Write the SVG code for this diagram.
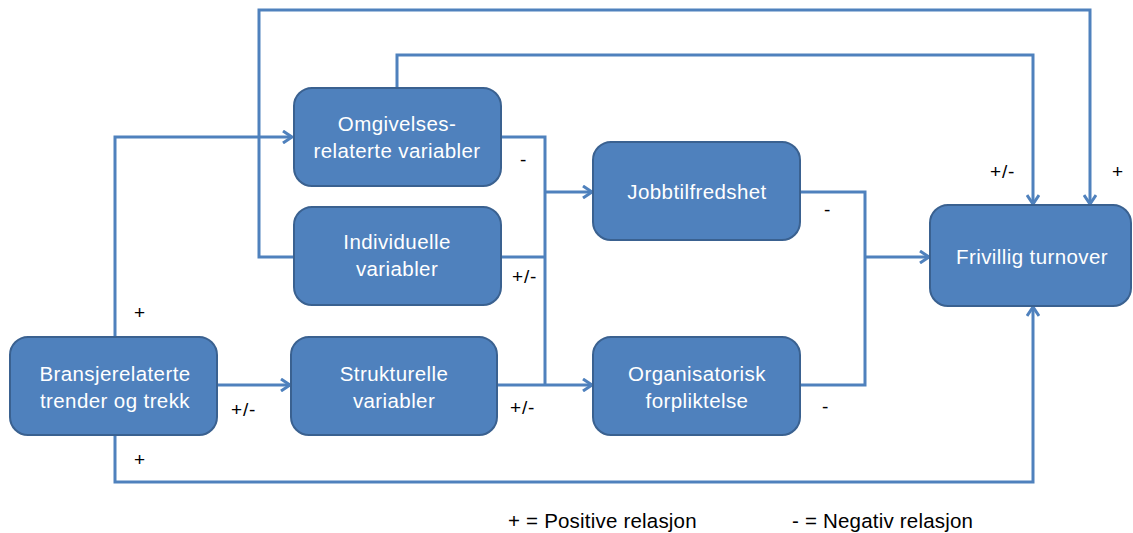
<svg xmlns="http://www.w3.org/2000/svg" width="1133" height="533" viewBox="0 0 1133 533">
<style>
.box{fill:#4F81BD;stroke:#3A6190;stroke-width:2}
.t{font-family:"Liberation Sans",Arial,sans-serif;font-size:20.5px;letter-spacing:0.4px;fill:#FFFFFF;text-anchor:middle}
.c{fill:none;stroke:#4F81BD;stroke-width:3}
.l{font-family:"Liberation Sans",Arial,sans-serif;font-size:19px;letter-spacing:0.8px;fill:#000000}
.g{font-family:"Liberation Sans",Arial,sans-serif;font-size:20.5px;letter-spacing:0.2px;fill:#000000}
</style>
<defs>
<marker id="arr" markerWidth="14" markerHeight="14" refX="11" refY="7" orient="auto" markerUnits="userSpaceOnUse">
<polyline points="2,1 11,7 2,13" fill="none" stroke="#4F81BD" stroke-width="3"/>
</marker>
</defs>
<rect width="1133" height="533" fill="#FFFFFF"/>
<g id="connectors">
<path class="c" d="M294,257 H259 V10 H1090 V204" marker-end="url(#arr)"/>
<path class="c" d="M397,87 V55 H1033 V204" marker-end="url(#arr)"/>
<path class="c" d="M501,137 H545 V385"/>
<path class="c" d="M501,257 H545"/>
<path class="c" d="M545,192 H592" marker-end="url(#arr)"/>
<path class="c" d="M497,385 H592" marker-end="url(#arr)"/>
<path class="c" d="M800,192 H865 V385 H800"/>
<path class="c" d="M865,257 H929" marker-end="url(#arr)"/>
<path class="c" d="M115,336 V137 H292" marker-end="url(#arr)"/>
<path class="c" d="M218,385 H290" marker-end="url(#arr)"/>
<path class="c" d="M115,435 V482 H1033 V307" marker-end="url(#arr)"/>
</g>
<g id="n-omgivelses"><rect class="box" x="294" y="88" width="207" height="98" rx="18"/><text class="t" x="397" y="131">Omgivelses-</text><text class="t" x="397" y="158">relaterte variabler</text></g>
<g id="n-individuelle"><rect class="box" x="294" y="207" width="207" height="98" rx="18"/><text class="t" x="397" y="249">Individuelle</text><text class="t" x="397" y="276">variabler</text></g>
<g id="n-bransje"><rect class="box" x="10" y="337" width="207" height="98" rx="18"/><text class="t" x="115" y="381">Bransjerelaterte</text><text class="t" x="115" y="408">trender og trekk</text></g>
<g id="n-strukturelle"><rect class="box" x="291" y="337" width="206" height="98" rx="18"/><text class="t" x="394" y="381">Strukturelle</text><text class="t" x="394" y="408">variabler</text></g>
<g id="n-jobb"><rect class="box" x="593" y="142" width="207" height="98" rx="18"/><text class="t" x="697" y="199">Jobbtilfredshet</text></g>
<g id="n-org"><rect class="box" x="593" y="337" width="207" height="98" rx="18"/><text class="t" x="697" y="381">Organisatorisk</text><text class="t" x="697" y="408">forpliktelse</text></g>
<g id="n-frivillig"><rect class="box" x="930" y="205" width="201" height="101" rx="18"/><text class="t" x="1032" y="264">Frivillig turnover</text></g>
<g id="labels">
<text class="l" x="520" y="166">-</text>
<text class="l" x="512" y="283">+/-</text>
<text class="l" x="510" y="414">+/-</text>
<text class="l" x="824" y="216">-</text>
<text class="l" x="822" y="413">-</text>
<text class="l" x="990" y="178">+/-</text>
<text class="l" x="1112" y="178">+</text>
<text class="l" x="134" y="319">+</text>
<text class="l" x="231" y="416">+/-</text>
<text class="l" x="134" y="466">+</text>
<text class="g" x="508" y="528">+ = Positive relasjon</text>
<text class="g" x="792" y="528">-  = Negativ relasjon</text>
</g>
</svg>
